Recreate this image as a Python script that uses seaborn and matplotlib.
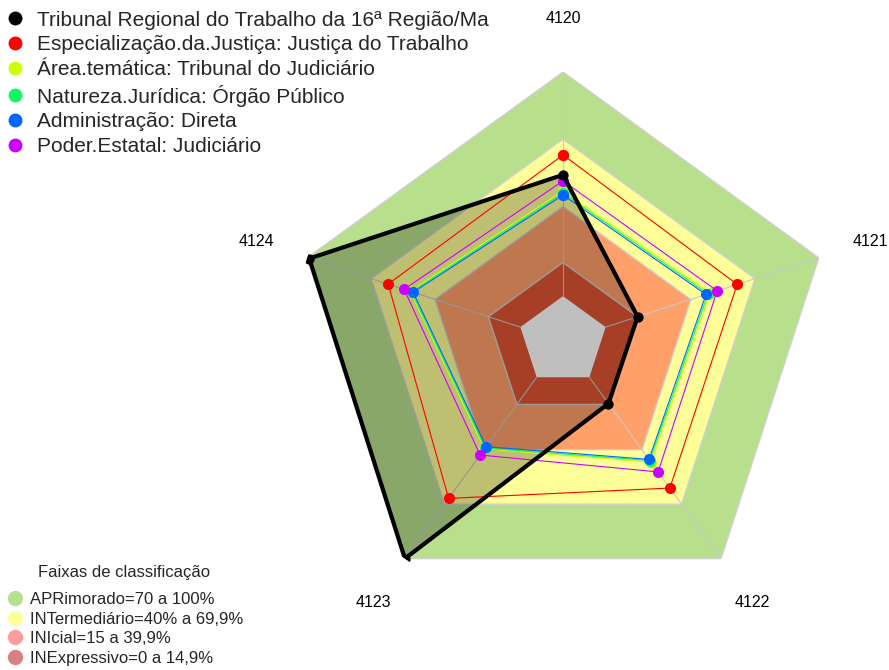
import numpy as np
import pandas as pd
import matplotlib
matplotlib.use("Agg")
import matplotlib.pyplot as plt
from matplotlib.lines import Line2D
import seaborn as sns

# Configurações visuais
sns.set_theme(style="white")
plt.rcParams["font.family"] = ["Liberation Sans", "DejaVu Sans"]

# =============================================================
# DADOS
# =============================================================
eixos = ["4120", "4121", "4122", "4123", "4124"]

nomes_series = [
    "Tribunal Regional do Trabalho da 16ª Região/Ma",
    "Especialização.da.Justiça: Justiça do Trabalho",
    "Área.temática: Tribunal do Judiciário",
    "Natureza.Jurídica: Órgão Público",
    "Administração: Direta",
    "Poder.Estatal: Judiciário",
]
cores_series = ["#000000", "#ff0000", "#ccff00", "#00ff66", "#0066ff", "#cc00ff"]

tribunal = [54.1, 15.0, 14.5, 100.0, 99.0]
especializacao = [63.0, 61.7, 61.1, 66.8, 62.0]
area_tematica = [46.9, 49.0, 46.8, 39.6, 51.6]
natureza = [46.0, 48.0, 46.0, 39.0, 51.0]
administracao = [45.1, 47.1, 45.3, 38.3, 50.3]
poder_estatal = [51.4, 52.3, 52.2, 42.9, 54.5]

faixas_nomes = [
    "APRimorado=70 a 100%",
    "INTermediário=40% a 69,9%",
    "INIcial=15 a 39,9%",
    "INExpressivo=0 a 14,9%",
]
faixas_legenda = ["#b8e08c", "#ffff99", "#ff9c9c", "#d88080"]
faixas_limites = [100, 70, 40, 15, 0]
faixas_cores = ["#b8e08c", "#ffff99", "#ffa06a", "#e05535", "#ffffff"]

r_min = -20

# =============================================================
# GRÁFICO RADAR
# =============================================================
fig = plt.figure(figsize=(8.89, 6.70), dpi=100)
ax = fig.add_axes([0.3307, 0.0896, 0.6052, 0.803], projection="polar")
ax.set_theta_zero_location("N")
ax.set_theta_direction(-1)
ax.axis("off")

angulos = np.deg2rad(np.arange(len(eixos)) * 360 / len(eixos))
ang_f = np.append(angulos, angulos[0])


def fechar(v):
    return np.append(v, v[0])


# faixas de classificação (pentágonos aninhados)
for lim, cor in zip(faixas_limites, faixas_cores):
    borda = "#d0d0d0" if cor != "#ffffff" else "none"
    ax.fill(ang_f, [lim] * len(ang_f), facecolor=cor, edgecolor=borda, lw=1, zorder=1)

# raios
for a in angulos:
    ax.plot([a, a], [0, 100], color="#c8c8c8", lw=0.8, zorder=2)

# área do tribunal
ax.fill(ang_f, fechar(tribunal), color="black", alpha=0.25, lw=0, zorder=3)

valores = [especializacao, area_tematica, natureza, administracao, poder_estatal]
for vals, cor in zip(valores, cores_series[1:]):
    df = pd.DataFrame({"ang": ang_f, "valor": fechar(vals)})
    sns.lineplot(data=df, x="ang", y="valor", sort=False, estimator=None,
                 color=cor, lw=0.8, marker="o", markersize=8,
                 markeredgewidth=0, ax=ax, zorder=4)

# contorno do tribunal (polígono fechado) e pontos
ax.fill(ang_f, fechar(tribunal), facecolor="none", edgecolor="black",
        lw=3, joinstyle="round", zorder=5)
df = pd.DataFrame({"ang": angulos, "valor": tribunal})
sns.scatterplot(data=df, x="ang", y="valor", color="black", s=55,
                linewidth=0, ax=ax, zorder=6)

ax.set_thetalim(0, 2 * np.pi)
ax.set_ylim(r_min, 100)

for a, nome in zip(angulos, eixos):
    ax.text(a, 124, nome, ha="center", va="center", fontsize=11.5,
            color="black", clip_on=False)

# legenda das séries
h_series = [Line2D([], [], marker="o", linestyle="", markersize=10,
                   markeredgewidth=0, color=c) for c in cores_series]
fig.legend(handles=h_series, labels=nomes_series, loc="upper left",
           bbox_to_anchor=(0.008, 0.984), frameon=False, fontsize=15,
           handlelength=0.75, handletextpad=0.7, labelspacing=0.27,
           borderaxespad=0, borderpad=0)

# legenda das faixas
fig.text(124 / 889, 1 - 572 / 670, "Faixas de classificação", fontsize=12,
         ha="center", va="center")
h_faixas = [Line2D([], [], marker="o", linestyle="", markersize=11,
                   markeredgewidth=0, color=c) for c in faixas_legenda]
fig.legend(handles=h_faixas, labels=faixas_nomes, loc="lower left",
           bbox_to_anchor=(0.008, 0.006), frameon=False, fontsize=12,
           handlelength=1.0, handletextpad=0.38, labelspacing=0.28,
           borderaxespad=0, borderpad=0)

plt.savefig("out.png", dpi=100)
